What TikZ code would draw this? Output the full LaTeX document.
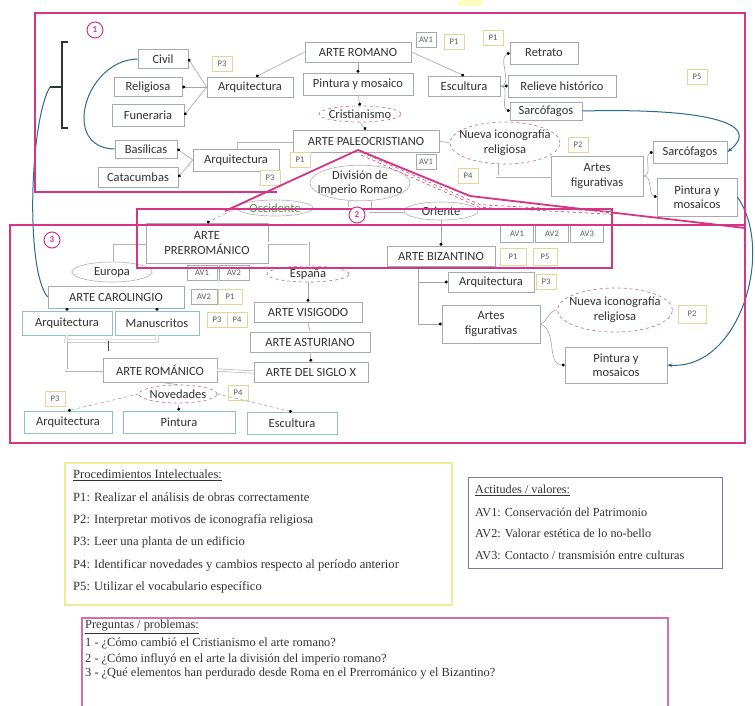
\documentclass[tikz,border=0pt]{standalone}
\usepackage{fontspec}
\setmainfont{Liberation Serif}
\newfontfamily\carl{Carlito}
\usetikzlibrary{shapes.geometric,arrows.meta,calc}
\definecolor{pinkc}{RGB}{214,52,132}
\definecolor{redd}{RGB}{200,40,90}
\definecolor{bluec}{RGB}{40,105,150}
\definecolor{boxg}{RGB}{165,170,170}
\definecolor{tagy}{RGB}{225,215,150}
\definecolor{tealb}{RGB}{140,195,190}
\definecolor{elp}{RGB}{205,120,150}
\definecolor{legy}{RGB}{240,235,150}
\definecolor{legv}{RGB}{130,115,175}
\definecolor{legp}{RGB}{215,110,165}
\newcommand\ctr[1]{\makebox[0pt]{#1}}
\begin{document}
\begin{tikzpicture}[x=1pt,y=-1pt,
  lblf/.style={font=\carl\fontsize{12.5}{14.5}\selectfont},
  bx/.style 2 args={draw=boxg, fill=white, line width=0.7pt, inner sep=0pt, align=center, lblf, text=black!80, minimum width=#1, minimum height=#2},
  bxt/.style 2 args={bx={#1}{#2}, draw=tealb},
  el/.style 2 args={ellipse, draw=elp, dashed, line width=0.7pt, fill=white, inner sep=0pt, align=center, lblf, text=black!80, minimum width=#1, minimum height=#2},
  eg/.style 2 args={el={#1}{#2}, solid, draw=gray!55},
  tg/.style={draw=tagy, fill=white, line width=0.6pt, font=\carl\fontsize{8.5}{9}\selectfont, text=black!65, minimum width=20, minimum height=15, inner sep=1pt},
  ta/.style={tg, draw=boxg},
  con/.style={draw=gray!70, line width=0.6pt, -{Circle[length=3pt,color=black]}},
  ln/.style={draw=gray!70, line width=0.6pt},
  dbl/.style={draw=gray!60, double=white, double distance=1.8pt, line width=0.6pt},
  blu/.style={draw=bluec, line width=1pt},
  pk/.style={draw=pinkc, line width=1.8pt},
  pkd/.style={draw=redd, line width=0.6pt, double=white, double distance=2pt, dashed},
  numc/.style={circle, draw=pinkc, line width=1pt, fill=white, text=pinkc, font=\carl\bfseries\fontsize{9}{9}\selectfont, inner sep=1pt, minimum size=16},
  lg/.style={anchor=west, font=\fontsize{12.6}{14}\selectfont, text=black!80, inner sep=0pt},
  lv/.style={anchor=west, font=\fontsize{12.2}{14}\selectfont, text=black!80, inner sep=0pt},
  lq/.style={anchor=west, font=\fontsize{12.4}{13}\selectfont, text=black!80, inner sep=0pt}
]
\useasboundingbox (0,0) rectangle (755,705);
\fill[white] (0,0) rectangle (755,705);
\fill[yellow!25] (458,0) rectangle (482,6);

% ---------- section 1 ----------
\node[bx={50}{19}] (civil) at (163,59) {Civil};
\node[bx={68}{19}] (relig) at (148,87) {Religiosa};
\node[bx={72}{22}] (fune) at (148,115) {Funeraria};
\node[bx={86}{20}] (arqa) at (250,87) {Arquitectura};
\node[bx={106}{20}] (aroma) at (358,52) {ARTE ROMANO};
\node[bx={110}{22}] (pym) at (358,84) {Pintura y mosaico};
\node[bx={72}{20}] (esca) at (464,86) {Escultura};
\node[el={82}{16}] (crist) at (360,114) {\ctr{Cristianismo}};
\node[bx={146}{22}] (apaleo) at (366,141) {ARTE PALEOCRISTIANO};
\node[el={110}{42}] (nira) at (505,143) {\ctr{Nueva iconografía}\\\ctr{religiosa}};
\node[bx={68}{22}] (retr) at (544,53) {Retrato};
\node[bx={108}{22}] (relh) at (562,86) {Relieve histórico};
\node[bx={72}{18}] (sarca) at (546,111) {Sarcófagos};
\node[bx={92}{40}] (afiga) at (597,176) {Artes\\figurativas};
\node[bx={74}{22}] (sarcb) at (690,152) {Sarcófagos};
\node[bx={80}{38}] (pyma) at (697,197) {Pintura y\\mosaicos};
\node[bx={86}{22}] (arqb) at (236,160) {Arquitectura};
\node[bx={62}{18}] (basil) at (146,149) {Basílicas};
\node[bx={80}{20}] (catac) at (138,177) {Catacumbas};
\node[eg={100}{34}] (divi) at (360,183) {\ctr{División de}\\\ctr{Imperio Romano}};
\node[eg={76}{16}, text=green!40!black!70] (occ) at (275,208) {\ctr{Occidente}};
\node[eg={74}{18}] (ori) at (441,211) {\ctr{Oriente}};

\node[tg] (t1) at (222,64) {P3};
\node[ta] (t2) at (426,40) {AV1};
\node[tg] (t3) at (454,42) {P1};
\node[tg] (t4) at (493,38) {P1};
\node[tg] (t5) at (697,77) {P5};
\node[tg] (t6) at (578,145) {P2};
\node[tg] (t7) at (300,160) {P1};
\node[tg] (t8) at (270,178) {P3};
\node[ta] (t9) at (426,162) {AV1};
\node[tg] (t10) at (468,176) {P4};

% ---------- section 2 ----------
\node[bx={122}{40}] (apre) at (207,243) {ARTE\\PRERROMÁNICO};
\node[bx={108}{20}] (abiz) at (441,256) {ARTE BIZANTINO};
\node[ta, minimum width=33, minimum height=17] (t11) at (517,234) {AV1};
\node[ta, minimum width=33, minimum height=17] (t12) at (552,234) {AV2};
\node[ta, minimum width=33, minimum height=17] (t13) at (587,234) {AV3};
\node[tg, minimum width=26, minimum height=17] (t14) at (513,257) {P1};
\node[tg, minimum width=24, minimum height=17] (t15) at (545,257) {P5};

% ---------- section 3 ----------
\node[eg={80}{20}] (europa) at (112,272) {\ctr{Europa}};
\node[el={82}{16}] (espana) at (308,274) {\ctr{España}};
\node[ta, minimum width=30] (t16) at (202,273) {AV1};
\node[ta, minimum width=30] (t17) at (234,273) {AV2};
\node[ta, minimum width=26] (t18) at (204,297) {AV2};
\node[tg, minimum width=24] (t19) at (230,297) {P1};
\node[tg] (t20) at (217,320) {P3};
\node[tg] (t21) at (237,320) {P4};
\node[bx={136}{22}] (acar) at (116,297) {ARTE CAROLINGIO};
\node[bxt={90}{24}] (arqc) at (67,323) {Arquitectura};
\node[bxt={84}{24}] (manu) at (157,323) {Manuscritos};
\node[bx={108}{20}] (avis) at (308,312) {ARTE VISIGODO};
\node[bx={120}{20}] (aast) at (310,342) {ARTE ASTURIANO};
\node[bx={114}{20}] (asx) at (311,372) {ARTE DEL SIGLO X};
\node[bx={114}{24}] (arom) at (160,370) {ARTE ROMÁNICO};
\node[el={78}{18}] (noved) at (178,394) {\ctr{Novedades}};
\node[tg] (t22) at (55,399) {P3};
\node[tg] (t23) at (238,393) {P4};
\node[bxt={88}{22}] (arqd) at (68,422) {Arquitectura};
\node[bxt={112}{22}] (pint) at (179,422) {Pintura};
\node[bxt={90}{22}] (escu) at (292,423) {Escultura};
\node[bx={86}{20}] (arqe) at (491,282) {Arquitectura};
\node[tg] (t24) at (546,282) {P3};
\node[bx={98}{38}] (afigc) at (491,324) {Artes\\figurativas};
\node[el={115}{44}] (nirc) at (615,310) {\ctr{Nueva iconografía}\\\ctr{religiosa}};
\node[tg, minimum width=28, minimum height=18] (t25) at (692,314) {P2};
\node[bx={102}{36}] (pymc) at (616,365) {Pintura y\\mosaicos};

% ---------- connectors ----------
\draw[con] (aroma.west) -- (arqa.60);
\draw[con] (aroma.south) -- (pym.north);
\draw[con] (aroma.east) -- (esca.north);
\draw[con] (arqa.west) -- (civil.east);
\draw[con] (arqa.west) -- (relig.east);
\draw[con] (arqa.west) -- (fune.east);
\draw[con] (pym.south) -- (crist.north);
\draw[con] (crist.south) -- (apaleo.north);
\draw[con] (esca.east) to[out=0,in=200] (retr.west);
\draw[con] (esca.east) -- (relh.west);
\draw[con] (esca.east) to[out=0,in=160] (sarca.west);
\draw[ln] (apaleo.east) -- (nira.west);
\draw[dbl] (apaleo.west) -| (arqb.north);
\draw[dbl] (nira.250) |- (afiga.west);
\draw[con] (arqb.west) -- (basil.east);
\draw[con] (arqb.west) -- (catac.east);
\draw[con] (afiga.east) to[out=0,in=200] (sarcb.west);
\draw[con] (afiga.east) to[out=0,in=160] (pyma.west);
\draw[dbl] (divi.240) |- (occ.east);
\draw[dbl] (divi.300) |- (ori.west);
\draw[con, dashed] (occ.west) -- (apre.north);
\draw[con] (ori.south) -- (abiz.north);
\draw[dbl] (apre.west) -| (europa.north);
\draw[dbl] (apre.east) -| (espana.north);
\draw[con] (acar.south -| arqc.north) -- (arqc.north);
\draw[con] (acar.south -| manu.north) -- (manu.north);
\coordinate (j1) at (66,341);
\coordinate (j2) at (157,341);
\draw[dbl] (arqc.south) -- (j1) -- (j2) -- (manu.south);
\draw[dbl] (j1) |- (arom.west);
\coordinate (tk1) at (108,341);
\coordinate (tk2) at (108,351);
\draw[ln, line width=1pt, draw=black!70] (tk1) -- (tk2);
\draw[con] (espana.south) -- (avis.north);
\draw[ln] (avis.south) -- (aast.north);
\draw[con] (aast.south) -- (asx.north);
\draw[dbl] (asx.west) -- (arom.east);
\draw[ln] (arom.south) -- (noved.north);
\draw[con, dashed] (noved.west) -- (arqd.north);
\draw[con] (noved.south) -- (pint.north);
\draw[con, dashed] (noved.east) -- (escu.north);
\coordinate (bz) at ($(abiz.south)+(-23,0)$);
\draw[con] (bz) |- (arqe.west);
\draw[con] (bz) |- (afigc.west);
\draw[ln] (afigc.east) to[out=20,in=180] (nirc.west);
\draw[con] (afigc.east) to[out=-20,in=180] (pymc.west);

% blue curves
\coordinate (br) at (50,87);
\draw[blu] (civil.west) .. controls (85,60) and (60,148) .. (basil.west);
\draw[blu] (br) .. controls (30,120) and (25,270) .. (acar.west);
\draw[blu, -{Stealth[length=5pt]}] (sarca.east) .. controls (700,108) and (765,122) .. (sarcb.east);
\draw[blu, -{Stealth[length=5pt]}] (pyma.east) .. controls (775,250) and (740,370) .. (pymc.east);

% bracket
\coordinate (b1) at (68,42);
\coordinate (b2) at (62,42);
\coordinate (b3) at (62,128);
\coordinate (b4) at (68,128);
\coordinate (bm) at (62,87);
\draw[black!80, line width=1.3pt] (b1) -- (b2) -- (b3) -- (b4);
\draw[black!80, line width=1.3pt] (br) -- (bm);

% pink frames
\draw[pk] (277,192) -- (35,192) -- (35,13) -- (745,13) -- (745,228);
\draw[pk] (358,150) -- (225,211);
\draw[pk] (358,150) -- (470,196) -- (745,228);
\draw[pkd] (362,154) -- (480,206) -- (612,213);
\draw[pk] (137,209) rectangle (612,268);
\draw[pk] (10,225) rectangle (745,443);
\node[numc] (n1) at (95,30) {1};
\node[numc] (n2) at (357,215) {2};
\node[numc] (n3) at (52,240) {3};

% ---------- legends ----------
\draw[legy, line width=1.5pt] (65,463) rectangle (452,605);
\node[lg] (l1) at (73,475) {\underline{Procedimientos Intelectuales:}};
\node[lg] (l2) at (73,497) {P1: Realizar el análisis de obras correctamente};
\node[lg] (l3) at (73,520) {P2: Interpretar motivos de iconografía religiosa};
\node[lg] (l4) at (73,542) {P3: Leer una planta de un edificio};
\node[lg] (l5) at (73,565) {P4: Identificar novedades y cambios respecto al período anterior};
\node[lg] (l6) at (73,587) {P5: Utilizar el vocabulario específico};

\draw[legv, line width=1pt] (468,477) rectangle (722,568);
\node[lv] (m1) at (475,490) {\underline{Actitudes / valores:}};
\node[lv] (m2) at (475,512) {AV1: Conservación del Patrimonio};
\node[lv] (m3) at (475,533) {AV2: Valorar estética de lo no-bello};
\node[lv] (m4) at (475,555) {AV3: Contacto / transmisión entre culturas};

\draw[legp, line width=1.5pt] (82,618) rectangle (668,712);
\node[lq] (q1) at (85,627) {\underline{Preguntas / problemas:}};
\node[lq] (q2) at (85,643) {1 - ¿Cómo cambió el Cristianismo el arte romano?};
\node[lq] (q3) at (85,659) {2 - ¿Cómo influyó en el arte la división del imperio romano?};
\node[lq] (q4) at (85,674) {3 - ¿Qué elementos han perdurado desde Roma en el Prerrománico y el Bizantino?};
\end{tikzpicture}
\end{document}
